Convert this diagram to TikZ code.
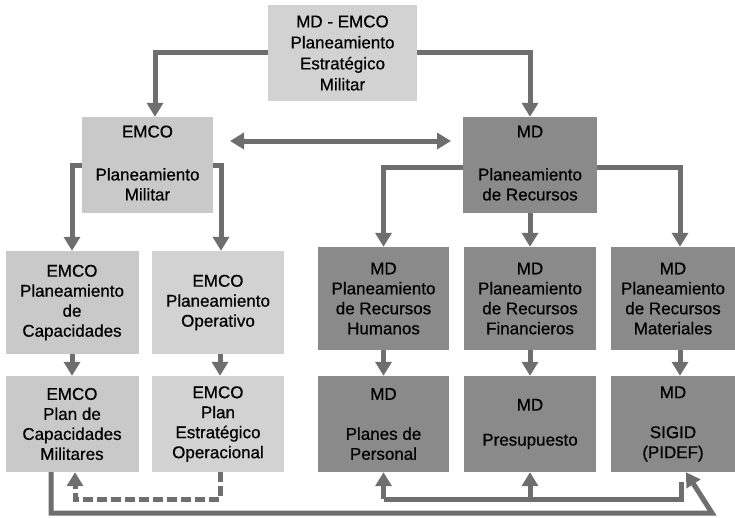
\documentclass[tikz,border=0pt]{standalone}
\usepackage{fontspec}
\setmainfont{Liberation Sans}[FakeBold=0.6]
\usetikzlibrary{arrows.meta,calc}
\definecolor{lightbox}{HTML}{C9C9C9}
\definecolor{topbox}{HTML}{D2D2D2}
\definecolor{darkbox}{HTML}{8A8A8A}
\definecolor{arrowcol}{HTML}{6E6E6E}
\tikzset{
  box/.style={draw=none, inner sep=0pt, align=center,
    font=\fontsize{17}{20}\selectfont},
  lbox/.style={box, fill=lightbox},
  dbox/.style={box, fill=darkbox},
  conn/.style={draw=arrowcol, line width=5pt, line join=miter},
  tip/.style={conn, -{Triangle[width=16pt,length=14pt]}},
  dtip/.style={conn, {Triangle[width=16pt,length=14pt]}-{Triangle[width=16pt,length=14pt]}},
}
\begin{document}
\begin{tikzpicture}[x=1pt,y=-1pt]
\useasboundingbox (0,0) rectangle (735,517);
% boxes
\node[box, fill=topbox, minimum width=149pt, minimum height=96pt] (top) at (342.5,53)
  {MD - EMCO\\[1pt]Planeamiento\\[1pt]Estratégico\\[1pt]Militar};
\node[lbox, minimum width=131pt, minimum height=96pt] (emco) at (147.5,165)
  {\mbox{}\\[-12pt]EMCO\\[23pt]Planeamiento\\Militar};
\node[dbox, minimum width=134pt, minimum height=96pt] (md) at (530,165)
  {\mbox{}\\[-12pt]MD\\[23pt]Planeamiento\\de Recursos};
% row 3
\node[lbox, minimum width=133pt, minimum height=103pt] (cap) at (72,302.5)
  {EMCO\\Planeamiento\\de\\Capacidades};
\node[lbox, fill=topbox, minimum width=132pt, minimum height=103pt] (ope) at (218,302.5)
  {EMCO\\Planeamiento\\Operativo};
\node[dbox, minimum width=131pt, minimum height=103pt] (hum) at (383.5,298.5)
  {MD\\Planeamiento\\de Recursos\\Humanos};
\node[dbox, minimum width=132pt, minimum height=103pt] (fin) at (530,298.5)
  {MD\\Planeamiento\\de Recursos\\Financieros};
\node[dbox, minimum width=124pt, minimum height=103pt] (mat) at (673,298.5)
  {MD\\Planeamiento\\de Recursos\\Materiales};
% row 4
\node[lbox, minimum width=133pt, minimum height=96pt] (pcm) at (72,424)
  {EMCO\\Plan de\\Capacidades\\Militares};
\node[lbox, fill=topbox, minimum width=132pt, minimum height=96pt] (peo) at (218,424)
  {EMCO\\Plan\\Estratégico\\Operacional};
\node[dbox, minimum width=131pt, minimum height=96pt] (per) at (383.5,424)
  {MD\\[20pt]Planes de\\Personal};
\node[dbox, minimum width=132pt, minimum height=96pt] (pre) at (530,424)
  {MD\\[15pt]Presupuesto};
\node[dbox, minimum width=124pt, minimum height=96pt] (sig) at (673,424)
  {MD\\[20pt]SIGID\\(PIDEF)};
% top connectors
\draw[tip] (top.west |- 0,52) -| (emco.north -| 155,0);
\draw[tip] (top.east |- 0,52) -| (md.north);
\draw[dtip] (230,141) coordinate (da) -- (451,141) coordinate (db);
% EMCO connectors
\draw[tip] (emco.west |- 0,165) -| (cap.north);
\draw[tip] (emco.east |- 0,165) -| (ope.north -| 221,0);
% MD connectors
\draw[tip] (md.west |- 0,167) -| (hum.north);
\draw[tip] (md.east |- 0,167) -| (mat.north -| 680,0);
\draw[tip] (md.south) -- (fin.north);
% row 3 -> row 4
\draw[tip] (cap.south) -- (pcm.north);
\draw[tip] (ope.south -| 220,0) -- (peo.north -| 220,0);
\draw[tip] (hum.south) -- (per.north);
\draw[tip] (fin.south) -- (pre.north);
\draw[tip] (mat.south -| 680,0) -- (sig.north -| 680,0);
% dashed feedback
\coordinate (d1) at (220,499);
\coordinate (d2) at (75,499);
\draw[tip, dashed, dash pattern=on 10pt off 4pt] (peo.south -| d1) -- (d1) -- (d2) -- (pcm.south -| d2);
% bottom solid loop
\coordinate (b1) at (51,513);
\coordinate (b2) at (712,513);
\draw[tip] (pcm.south -| b1) -- (b1) -- (b2) -- (sig.south -| 686,0);
% resource feedback
\coordinate (r1) at (383.5,499);
\coordinate (r2) at (681,499);
\coordinate (r3) at (681,482);
\draw[conn] (r1) -- (r2) -- (r3);
\draw[tip] (r1) -- (per.south);
\draw[tip] (pre.south |- r1) -- (pre.south);
\end{tikzpicture}
\end{document}
